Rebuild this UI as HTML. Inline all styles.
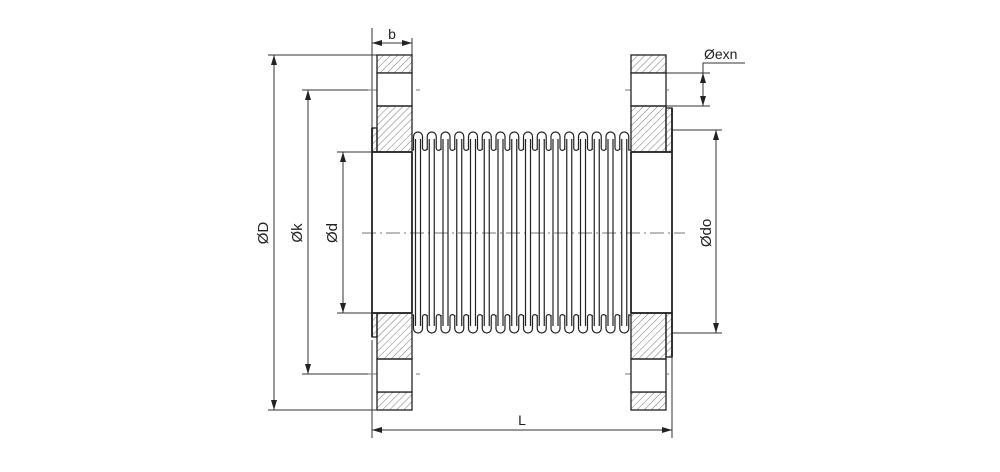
<!DOCTYPE html>
<html><head><meta charset="utf-8"><style>
html,body{margin:0;padding:0;background:#fff;}
svg{display:block;}
text{font-family:"Liberation Sans",sans-serif;fill:#222;}
</style></head><body>
<svg id="s" width="1000" height="472" viewBox="0 0 1000 472" xmlns="http://www.w3.org/2000/svg">
<defs>
<pattern id="h" patternUnits="userSpaceOnUse" width="5" height="5" patternTransform="rotate(45)">
<line x1="0" y1="0" x2="0" y2="5" stroke="#777" stroke-width="1"/>
</pattern>
<marker id="a" markerWidth="10" markerHeight="6" refX="10" refY="3" orient="auto-start-reverse" markerUnits="userSpaceOnUse">
<path d="M0,0 L10,3 L0,6 Z" fill="#222"/>
</marker>
</defs>
<g stroke="#333" stroke-width="1" fill="none">
<line x1="268" y1="55" x2="377" y2="55"/>
<line x1="268" y1="410" x2="377" y2="410"/>
<line x1="302" y1="90" x2="372" y2="90"/>
<line x1="302" y1="374" x2="372" y2="374"/>
<line x1="337" y1="152" x2="372" y2="152"/>
<line x1="337" y1="313" x2="372" y2="313"/>
<line x1="672" y1="130" x2="722" y2="130"/>
<line x1="672" y1="333" x2="722" y2="333"/>
<line x1="666" y1="73" x2="710" y2="73"/>
<line x1="666" y1="106" x2="710" y2="106"/>
<line x1="372" y1="28" x2="372" y2="128"/>
<line x1="412" y1="38" x2="412" y2="55"/>
<line x1="372" y1="340" x2="372" y2="438"/>
<line x1="672" y1="340" x2="672" y2="438"/>
<line x1="274" y1="55" x2="274" y2="410" marker-start="url(#a)" marker-end="url(#a)"/>
<line x1="308" y1="90" x2="308" y2="374" marker-start="url(#a)" marker-end="url(#a)"/>
<line x1="343" y1="152" x2="343" y2="313" marker-start="url(#a)" marker-end="url(#a)"/>
<line x1="716" y1="130" x2="716" y2="333" marker-start="url(#a)" marker-end="url(#a)"/>
<line x1="372" y1="43" x2="412" y2="43" marker-start="url(#a)" marker-end="url(#a)"/>
<line x1="372" y1="430" x2="672" y2="430" marker-start="url(#a)" marker-end="url(#a)"/>
<line x1="703" y1="73" x2="703" y2="106" marker-start="url(#a)" marker-end="url(#a)"/>
<polyline points="703,73 703,63 745,63"/>
<line x1="362" y1="233" x2="685" y2="233" stroke-dasharray="14,4,2,4" stroke="#777"/>
<line x1="368" y1="90" x2="420" y2="90" stroke-dasharray="14,4,2,4" stroke="#777"/>
<line x1="368" y1="374" x2="420" y2="374" stroke-dasharray="14,4,2,4" stroke="#777"/>
<line x1="625" y1="90" x2="672" y2="90" stroke-dasharray="14,4,2,4" stroke="#777"/>
<line x1="625" y1="374" x2="672" y2="374" stroke-dasharray="14,4,2,4" stroke="#777"/>
</g>
<g stroke="#222" stroke-width="1.3">
<rect x="377" y="55" width="35" height="18" fill="url(#h)"/>
<rect x="377" y="73" width="35" height="33" fill="#fff"/>
<rect x="377" y="106" width="35" height="46" fill="url(#h)"/>
<rect x="372" y="128" width="5" height="24" fill="url(#h)"/>
<rect x="377" y="392" width="35" height="18" fill="url(#h)"/>
<rect x="377" y="359" width="35" height="33" fill="#fff"/>
<rect x="377" y="313" width="35" height="46" fill="url(#h)"/>
<rect x="372" y="313" width="5" height="24" fill="url(#h)"/>
<rect x="631" y="55" width="35" height="18" fill="url(#h)"/>
<rect x="631" y="73" width="35" height="33" fill="#fff"/>
<rect x="631" y="106" width="35" height="46" fill="url(#h)"/>
<rect x="666" y="108" width="6" height="44" fill="url(#h)"/>
<rect x="631" y="392" width="35" height="18" fill="url(#h)"/>
<rect x="631" y="359" width="35" height="33" fill="#fff"/>
<rect x="631" y="313" width="35" height="46" fill="url(#h)"/>
<rect x="666" y="313" width="6" height="44" fill="url(#h)"/>
</g>
<g stroke="#222" stroke-width="1.8" fill="none">
<line x1="372" y1="128" x2="372" y2="337"/>
<line x1="412" y1="152" x2="412" y2="313"/>
<line x1="672" y1="108" x2="672" y2="357"/>
<line x1="631" y1="152" x2="631" y2="313"/>
<line x1="372" y1="152" x2="412" y2="152"/>
<line x1="372" y1="313" x2="412" y2="313"/>
<line x1="631" y1="152" x2="672" y2="152"/>
<line x1="631" y1="313" x2="672" y2="313"/>
</g>
<g id="bel" stroke="#222" stroke-width="1.2" fill="none"></g>
<text x="392" y="39" font-size="14" text-anchor="middle">b</text>
<text x="522" y="425" font-size="14" text-anchor="middle">L</text>
<text x="704" y="59" font-size="14">Øexn</text>
<text transform="translate(268,233) rotate(-90)" font-size="15" text-anchor="middle">ØD</text>
<text transform="translate(302,233) rotate(-90)" font-size="15" text-anchor="middle">Øk</text>
<text transform="translate(337,233) rotate(-90)" font-size="15" text-anchor="middle">Ød</text>
<text transform="translate(711,233) rotate(-90)" font-size="15" text-anchor="middle">Ødo</text>
</svg>
<script>
(function(){
var g=document.getElementById('bel'),ns='http://www.w3.org/2000/svg',n=16,p=13.75,x0=413.5,w=9;
var top='M412,150',bot='M412,315',lines='';
for(var i=0;i<n;i++){
 var x=x0+i*p;
 top+=' L'+x+',150 L'+x+',136.5 A4.5,4.5 0 0 1 '+(x+w)+',136.5 L'+(x+w)+',148';
 bot+=' L'+x+',315 L'+x+',328.5 A4.5,4.5 0 0 0 '+(x+w)+',328.5 L'+(x+w)+',317';
 if(i<n-1){top+=' A2.375,2.375 0 0 0 '+(x+p)+',148';bot+=' A2.375,2.375 0 0 1 '+(x+p)+',317';}
 lines+='M'+(x+2)+',139 L'+(x+2)+',326 M'+(x+w-2)+',139 L'+(x+w-2)+',326 ';
}
top+=' L'+(x0+(n-1)*p+w)+',150 L631,150';bot+=' L'+(x0+(n-1)*p+w)+',315 L631,315';
[top,bot,lines].forEach(function(d){var e=document.createElementNS(ns,'path');e.setAttribute('d',d);g.appendChild(e);});
})();
</script>
</body></html>
